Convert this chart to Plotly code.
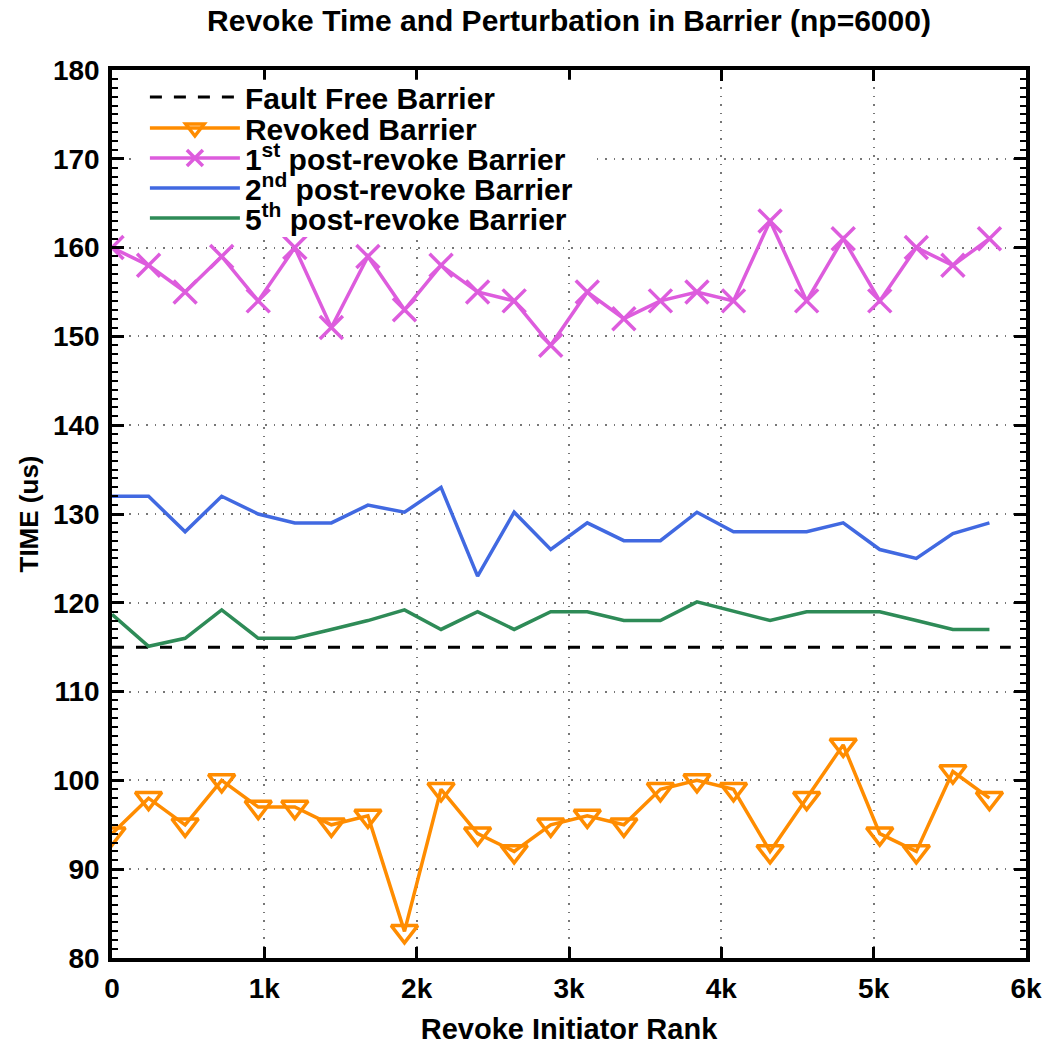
import plotly.graph_objects as go

# ---- data ----
ranks = [i * 240 for i in range(25)]
revoked = [94, 98, 95, 100, 97, 97, 95, 96, 83, 99, 94, 92, 95, 96, 95, 99, 100, 99, 92, 98, 104, 94, 92, 101, 98]
post1 = [160, 158, 155, 159, 154, 160, 151, 159, 153, 158, 155, 154, 149, 155, 152, 154, 155, 154, 163, 154, 161, 154, 160, 158, 161]
post2 = [132, 132, 128, 132, 130, 129, 129, 131, 130.2, 133, 123, 130.2, 126, 129, 127, 127, 130.2, 128, 128, 128, 129, 126, 125, 127.8, 129]
post5 = [118.7, 115.1, 116, 119.2, 116, 116, 117, 118, 119.2, 117, 119, 117, 119, 119, 118, 118, 120.1, 119, 118, 119, 119, 119, 118, 117, 117]
fault_free_x = [0, 5900]
fault_free = [115, 115]

x_tickvals = [0, 1000, 2000, 3000, 4000, 5000, 6000]
x_ticktext = ["0", "1k", "2k", "3k", "4k", "5k", "6k"]
y_tickvals = [80, 90, 100, 110, 120, 130, 140, 150, 160, 170, 180]

FONT = "Liberation Sans, Arial, sans-serif"
ORANGE = "#FF8C00"
MAGENTA = "#DD5CDD"
BLUE = "#4169E1"
GREEN = "#2E8B57"

fig = go.Figure()
fig.add_trace(go.Scatter(x=fault_free_x, y=fault_free, mode="lines", name="Fault Free Barrier",
                         legend="legend",
                         line=dict(color="black", width=3, dash="12px,12px")))
fig.add_trace(go.Scatter(x=ranks, y=revoked, mode="lines+markers", name="Revoked Barrier",
                         legend="legend2",
                         line=dict(color=ORANGE, width=3.5),
                         marker=dict(symbol="triangle-down-open", size=23, color=ORANGE,
                                     line=dict(color=ORANGE, width=3.5))))
fig.add_trace(go.Scatter(x=ranks, y=post1, mode="lines+markers", name="1<sup>st</sup> post-revoke Barrier",
                         legend="legend3",
                         line=dict(color=MAGENTA, width=3.5),
                         marker=dict(symbol="x-thin-open", size=23, color=MAGENTA,
                                     line=dict(color=MAGENTA, width=3.5))))
fig.add_trace(go.Scatter(x=ranks, y=post2, mode="lines", name="2<sup>nd</sup> post-revoke Barrier",
                         legend="legend4",
                         line=dict(color=BLUE, width=3.5)))
fig.add_trace(go.Scatter(x=ranks, y=post5, mode="lines", name="5<sup>th</sup> post-revoke Barrier",
                         legend="legend5",
                         line=dict(color=GREEN, width=3.5)))

grid = dict(showgrid=True, gridcolor="#777", gridwidth=1.5, griddash="1.5px,7px")
fig.update_xaxes(range=[0, 6000], tickvals=x_tickvals, ticktext=x_ticktext, automargin=False,
                 showline=True, linecolor="black", linewidth=3.5, mirror="ticks",
                 ticks="inside", ticklen=11, tickwidth=3, tickcolor="black", ticklabelstandoff=3,
                 tickfont=dict(family=FONT, size=28, color="black", weight="bold"),
                 title=dict(text="Revoke Initiator Rank", standoff=20,
                            font=dict(family=FONT, size=29, color="black", weight="bold")),
                 zeroline=False, **grid)
fig.update_yaxes(range=[80, 180], tickvals=y_tickvals, automargin=False,
                 showline=True, linecolor="black", linewidth=3.5, mirror="ticks",
                 ticks="inside", ticklen=12, tickwidth=3, tickcolor="black", ticklabelstandoff=3,
                 minor=dict(ticks="inside", ticklen=6, tickwidth=2, dtick=1, tickcolor="black", showgrid=False),
                 tickfont=dict(family=FONT, size=28, color="black", weight="bold"),
                 title=dict(text="TIME (us)", standoff=8,
                            font=dict(family=FONT, size=26, color="black", weight="bold")),
                 zeroline=False, **grid)

# legend rows (paper y of each row centre)
legend_rows = [0.9696, 0.9347, 0.9009, 0.8671, 0.8333]
leg_common = dict(x=0.036, xanchor="left", yanchor="middle", bgcolor="rgba(0,0,0,0)",
                  borderwidth=0, itemwidth=90,
                  font=dict(family=FONT, size=30, color="black", weight="bold"))
legends = {}
for i, yv in enumerate(legend_rows):
    key = "legend" if i == 0 else f"legend{i + 1}"
    legends[key] = dict(y=yv, **leg_common)

fig.update_layout(
    width=1044, height=1037,
    margin=dict(l=104, r=26, t=62, b=87),
    paper_bgcolor="white", plot_bgcolor="white",
    title=dict(text="Revoke Time and Perturbation in Barrier (np=6000)", x=0.5, xref="paper",
               xanchor="center", y=0.9875, yanchor="middle",
               font=dict(family=FONT, size=30, color="black", weight="bold")),
    shapes=[dict(type="rect", xref="paper", yref="paper", x0=0.025, x1=0.525, y0=0.812, y1=0.989,
                 fillcolor="white", line=dict(width=0), layer="above")],
    showlegend=True,
    **legends,
)

fig.write_html("out.html")
